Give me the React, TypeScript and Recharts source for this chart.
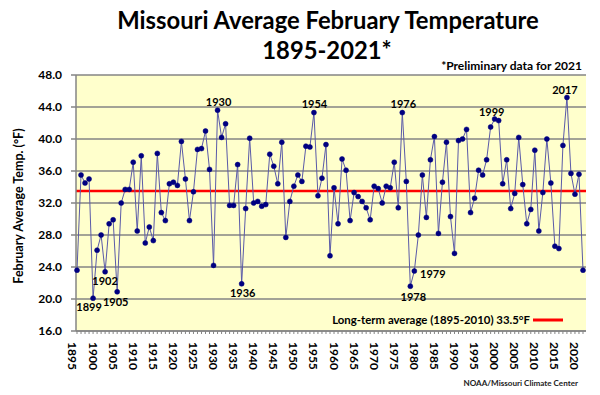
import React from "react";
import {
  LineChart,
  Line,
  XAxis,
  YAxis,
  CartesianGrid,
  ReferenceLine,
  LabelList,
} from "recharts";

const START_YEAR = 1895;

// February average temperature (°F), 1895-2021 (2021 preliminary)
const temps: number[] = [
  23.6, 35.5, 34.5, 35.0, 20.1, // 1895-1899
  26.1, 28.0, 23.4, 29.4, 29.9, 20.9, 32.0, 33.7, 33.7, 37.1, // 1900s
  28.5, 37.9, 27.0, 29.0, 27.3, 38.2, 30.8, 29.8, 34.4, 34.6, // 1910s
  34.2, 39.7, 35.0, 29.8, 33.4, 38.7, 38.8, 41.0, 36.2, 24.2, // 1920s
  43.6, 40.2, 41.9, 31.7, 31.7, 36.8, 21.9, 31.3, 40.1, 32.0, // 1930s
  32.2, 31.6, 31.8, 38.1, 36.6, 34.4, 39.6, 27.7, 32.2, 34.1, // 1940s
  35.5, 34.7, 39.1, 39.0, 43.3, 32.9, 35.1, 39.3, 25.4, 33.9, // 1950s
  29.4, 37.5, 36.1, 29.8, 33.3, 32.8, 32.2, 31.4, 29.9, 34.1, // 1960s
  33.8, 32.0, 34.1, 33.9, 37.1, 31.4, 43.3, 34.7, 21.6, 23.5, // 1970s
  28.0, 35.5, 30.2, 37.4, 40.3, 28.2, 34.6, 39.6, 30.3, 25.7, // 1980s
  39.8, 40.0, 41.2, 30.8, 32.6, 36.1, 35.5, 37.4, 41.5, 42.5, // 1990s
  42.3, 34.4, 37.4, 31.3, 33.2, 40.2, 34.3, 29.4, 31.2, 38.6, // 2000s
  28.5, 33.3, 40.0, 34.5, 26.6, 26.3, 39.2, 45.2, 35.7, 33.1, // 2010s
  35.6, 23.6, // 2020-2021
];

const years: number[] = temps.map((_, i) => START_YEAR + i);

const yTicks: number[] = [16, 20, 24, 28, 32, 36, 40, 44, 48];
const longTermAverage = 33.5;
const labeledYears: number[] = [1899, 1902, 1905, 1930, 1936, 1954, 1976, 1978, 1979, 1999, 2017];

// label placement offsets (style only)
const labelOffsets: Record<number, [number, number]> = {
  1899: [-4, 13],
  1902: [0, 13],
  1905: [-1.5, 14],
  1930: [1, -4.5],
  1936: [1, 13],
  1954: [0.5, -4.5],
  1976: [1, -4.5],
  1978: [3, 14.5],
  1979: [18.5, 6.5],
  1999: [-3, -3.5],
  2017: [-2, -3],
};

const data = years.map((year, i) => ({ year, temp: temps[i] }));

const FONT = "Lato, 'DejaVu Sans', sans-serif";

const renderPointLabel = (props: any) => {
  const { x, y, value } = props;
  if (!labeledYears.includes(value)) return null;
  const [dx, dy] = labelOffsets[value] || [0, -6];
  return (
    <text
      x={x + dx}
      y={y + dy}
      textAnchor="middle"
      fontFamily={FONT}
      fontWeight={700}
      fontSize={11}
      fill="#000"
    >
      {value}
    </text>
  );
};

const YLabel = (props: any) => {
  const { viewBox } = props;
  const cy = viewBox.y + viewBox.height / 2 + 3;
  const cx = 18;
  return (
    <text
      x={cx}
      y={cy}
      transform={`rotate(-90 ${cx} ${cy})`}
      textAnchor="middle"
      dominantBaseline="central"
      fontFamily={FONT}
      fontWeight={700}
      fontSize={12.5}
      fill="#000"
    >
      February Average Temp. (°F)
    </text>
  );
};

export default function App() {
  return (
    <div
      style={{
        position: "absolute",
        left: 0,
        top: 0,
        width: 600,
        height: 395,
        background: "#fff",
        fontFamily: FONT,
      }}
    >
      <LineChart
        width={600}
        height={395}
        data={data}
        margin={{ top: 75, right: 14, bottom: 14, left: 0 }}
      >
        <CartesianGrid
          horizontal
          vertical={false}
          stroke="#858585"
          strokeWidth={1.5}
          fill="#FFFFCC"
          fillOpacity={1}
        />
        <XAxis
          dataKey="year"
          type="number"
          domain={[1895, 2021]}
          ticks={years}
          interval={0}
          padding={{ left: 1, right: 3 }}
          height={50}
          tickSize={3}
          tickMargin={8}
          tickFormatter={(v: number) => (v % 5 === 0 ? String(v) : "")}
          tickLine={{ stroke: "#858585" }}
          axisLine={{ stroke: "#858585", strokeWidth: 1.5 }}
          tick={{
            angle: 90,
            textAnchor: "start",
            verticalAnchor: "middle",
            fontFamily: FONT,
            fontWeight: 700,
            fontSize: 12,
            fill: "#000",
          }}
        />
        <YAxis
          domain={[16, 48]}
          ticks={yTicks}
          interval={0}
          width={76}
          tickSize={5}
          tickMargin={9}
          tickFormatter={(v: number) => v.toFixed(1)}
          tick={{ fontFamily: FONT, fontWeight: 700, fontSize: 12, fill: "#000" }}
          tickLine={{ stroke: "#858585", strokeWidth: 1.5 }}
          axisLine={{ stroke: "#858585", strokeWidth: 1.5 }}
          label={<YLabel />}
        />
        <YAxis
          yAxisId="r"
          orientation="right"
          domain={[16, 48]}
          width={0}
          tick={false}
          tickLine={false}
          axisLine={{ stroke: "#a0a0a0", strokeWidth: 1 }}
        />
        <ReferenceLine y={longTermAverage} stroke="#FF0000" strokeWidth={2.5} />
        <Line
          type="linear"
          dataKey="temp"
          stroke="#5a5aa8"
          strokeWidth={1}
          dot={{ r: 2.5, fill: "#000080", stroke: "#000080", strokeWidth: 0.5 }}
          isAnimationActive={false}
        >
          <LabelList dataKey="year" content={renderPointLabel} />
        </Line>
      </LineChart>
      <svg
        width={600}
        height={395}
        style={{ position: "absolute", left: 0, top: 0, pointerEvents: "none" }}
      >
        <text x={328} y={29} textAnchor="middle" fontFamily={FONT} fontWeight={700} fontSize={23.8} fill="#000">
          Missouri Average February Temperature
        </text>
        <text x={327} y={59} textAnchor="middle" fontFamily={FONT} fontWeight={700} fontSize={23.8} fill="#000">
          1895-2021*
        </text>
        <text x={582} y={70} textAnchor="end" fontFamily={FONT} fontWeight={700} fontSize={12} fill="#000">
          *Preliminary data for 2021
        </text>
        <text x={530} y={324} textAnchor="end" fontFamily={FONT} fontWeight={700} fontSize={11.4} fill="#000">
          Long-term average (1895-2010) 33.5°F
        </text>
        <line x1={533} x2={563} y1={320} y2={320} stroke="#FF0000" strokeWidth={3} />
        <text x={578} y={386} textAnchor="end" fontFamily={FONT} fontWeight={700} fontSize={8.1} fill="#222">
          NOAA/Missouri Climate Center
        </text>
      </svg>
    </div>
  );
}
